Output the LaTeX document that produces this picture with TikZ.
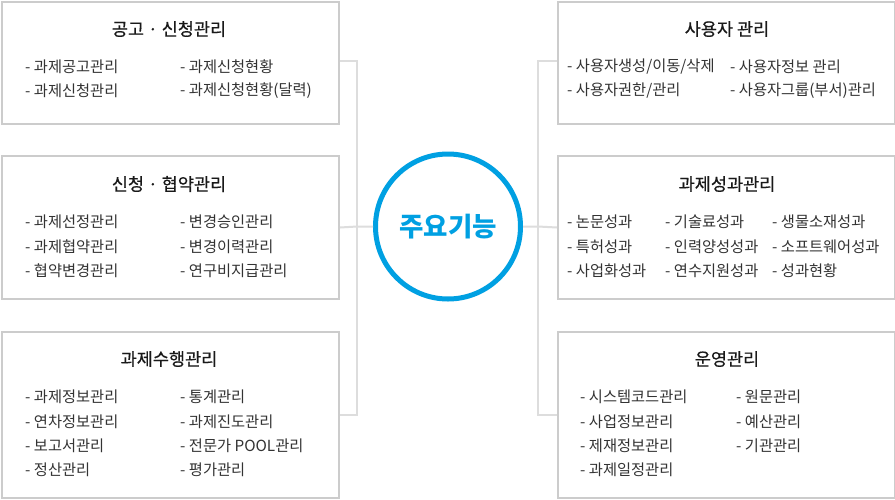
\documentclass[tikz,border=0pt]{standalone}
\usepackage{fontspec}
\setmainfont{Noto Sans CJK KR}
\newfontfamily\ttlfont[FakeBold=0.5]{Noto Sans CJK KR}
\definecolor{boxgray}{HTML}{CCCCCC}
\definecolor{conngray}{HTML}{DDDDDD}
\definecolor{mainblue}{RGB}{0,160,226}
\definecolor{txt}{HTML}{333333}
\tikzset{
  fbox/.style={draw=boxgray, line width=2pt, fill=white, minimum width=337pt, inner sep=0pt, anchor=north west},
  ttl/.style={font=\ttlfont\fontsize{17.5}{19}\selectfont, text=black!90, inner sep=0pt},
  itm/.style={font=\fontsize{15.3}{17}\selectfont, text=txt, anchor=west, inner sep=0pt},
  conn/.style={draw=conngray, line width=2pt},
}
\begin{document}
\begin{tikzpicture}[x=1pt,y=-1pt]
\useasboundingbox[fill=white] (0,0) rectangle (895,499);
% connectors
\coordinate (sL) at (357,226.5);
\coordinate (sR) at (538,226.5);
% boxes
\node[fbox, minimum height=122pt] (b1) at (1,1) {};
\node[fbox, minimum height=143pt] (b2) at (1,155) {};
\node[fbox, minimum height=166pt] (b3) at (1,331) {};
\node[fbox, minimum height=122pt] (r1) at (557,1) {};
\node[fbox, minimum height=143pt] (r2) at (557,155) {};
\node[fbox, minimum height=166pt] (r3) at (557,331) {};
\node[circle, draw=mainblue, line width=5pt, fill=white, minimum size=145pt, inner sep=0pt,
      font=\fontsize{26.5}{28}\selectfont\bfseries, text=mainblue] (main) at (448,226.5) {주요기능};
\draw[conn] ([yshift=2pt]b1.east) -| (sL) |- (b3.east);
\draw[conn] (b2.east) -- (sL) -- (main.west);
\draw[conn] ([yshift=2pt]r1.west) -| (sR) |- (r3.west);
\draw[conn] (r2.west) -- (sR) -- (main.east);
% left box 1
\node[ttl] (t1) at (169,29) {공고 · 신청관리};
\node[itm] (a11) at (25,67) {- 과제공고관리};
\node[itm] (a12) at (25,91) {- 과제신청관리};
\node[itm] (a13) at (180,67) {- 과제신청현황};
\node[itm] (a14) at (180,91) {- 과제신청현황(달력)};
% left box 2
\node[ttl] (t2) at (169,184) {신청 · 협약관리};
\node[itm] (a21) at (25,222) {- 과제선정관리};
\node[itm] (a22) at (25,246.5) {- 과제협약관리};
\node[itm] (a23) at (25,271) {- 협약변경관리};
\node[itm] (a24) at (180,222) {- 변경승인관리};
\node[itm] (a25) at (180,246.5) {- 변경이력관리};
\node[itm] (a26) at (180,271) {- 연구비지급관리};
% left box 3
\node[ttl] (t3) at (169,359) {과제수행관리};
\node[itm] (a31) at (25,397) {- 과제정보관리};
\node[itm] (a32) at (25,421.5) {- 연차정보관리};
\node[itm] (a33) at (25,446) {- 보고서관리};
\node[itm] (a34) at (25,470) {- 정산관리};
\node[itm] (a35) at (180,397) {- 통계관리};
\node[itm] (a36) at (180,421.5) {- 과제진도관리};
\node[itm] (a37) at (180,446) {- 전문가 POOL관리};
\node[itm] (a38) at (180,470) {- 평가관리};
% right box 1
\node[ttl] (u1) at (727,29) {사용자 관리};
\node[itm] (c11) at (567,67) {- 사용자생성/이동/삭제};
\node[itm] (c12) at (567,91) {- 사용자권한/관리};
\node[itm] (c13) at (730,67) {- 사용자정보 관리};
\node[itm] (c14) at (730,91) {- 사용자그룹(부서)관리};
% right box 2
\node[ttl] (u2) at (727,184) {과제성과관리};
\node[itm] (c21) at (567,222) {- 논문성과};
\node[itm] (c22) at (567,246.5) {- 특허성과};
\node[itm] (c23) at (567,271) {- 사업화성과};
\node[itm] (c24) at (665,222) {- 기술료성과};
\node[itm] (c25) at (665,246.5) {- 인력양성성과};
\node[itm] (c26) at (665,271) {- 연수지원성과};
\node[itm] (c27) at (772,222) {- 생물소재성과};
\node[itm] (c28) at (772,246.5) {- 소프트웨어성과};
\node[itm] (c29) at (772,271) {- 성과현황};
% right box 3
\node[ttl] (u3) at (727,359) {운영관리};
\node[itm] (c31) at (580,397) {- 시스템코드관리};
\node[itm] (c32) at (580,421.5) {- 사업정보관리};
\node[itm] (c33) at (580,446) {- 제재정보관리};
\node[itm] (c34) at (580,470) {- 과제일정관리};
\node[itm] (c35) at (736,397) {- 원문관리};
\node[itm] (c36) at (736,421.5) {- 예산관리};
\node[itm] (c37) at (736,446) {- 기관관리};
\end{tikzpicture}
\end{document}
